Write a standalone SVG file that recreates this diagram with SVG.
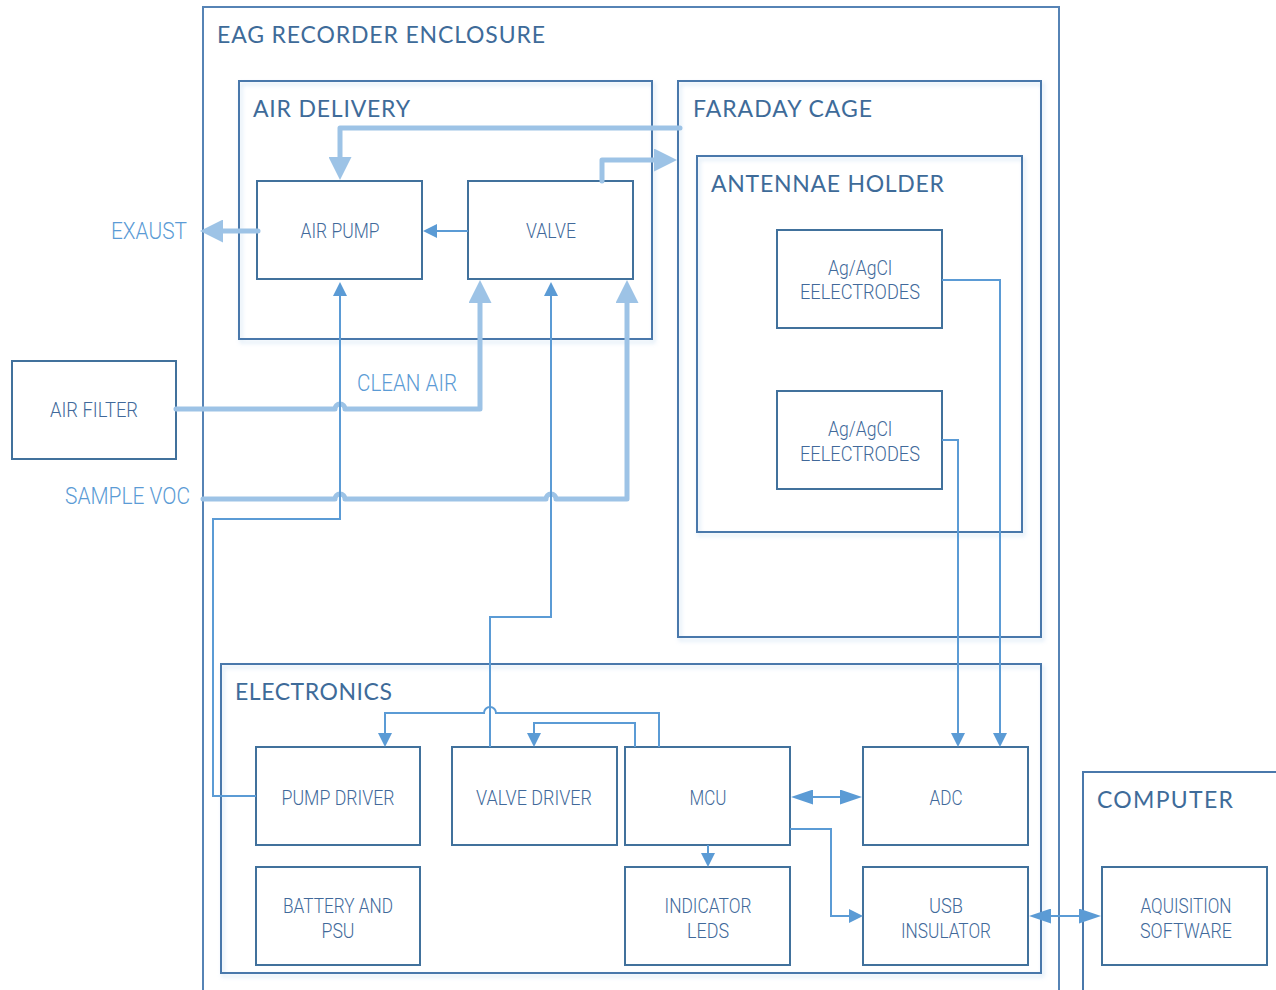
<svg xmlns="http://www.w3.org/2000/svg" width="1276" height="990" viewBox="0 0 1276 990">
<style>
.cont{fill:none;stroke:#4a78ab;stroke-width:2}
.encl{fill:none;stroke:#5683b5;stroke-width:2}
.box{fill:#fff;stroke:#41719c;stroke-width:2}
.title{font-family:Lato,"Open Sans","Liberation Sans",sans-serif;font-size:23px;fill:#3e6b99}
.lbl{font-family:Roboto,"Liberation Sans",sans-serif;font-size:21px;font-weight:300;fill:#41699a;text-anchor:middle}
.free{font-family:Roboto,"Liberation Sans",sans-serif;font-size:24px;font-weight:300;fill:#5b9bd5}
.thin{fill:none;stroke:#5b9bd5;stroke-width:2}
.thick{fill:none;stroke:#9dc3e6;stroke-width:5;stroke-linecap:round;stroke-linejoin:round}
</style>
<defs>
<filter id="sh" x="-5%" y="-5%" width="110%" height="110%">
<feDropShadow dx="2" dy="3" stdDeviation="2" flood-color="#9dc3e6" flood-opacity="0.45"/>
</filter>
<marker id="at" markerUnits="userSpaceOnUse" viewBox="0 0 14 14" refX="0" refY="7" markerWidth="14" markerHeight="14" orient="auto-start-reverse">
<path d="M0,0 L14,7 L0,14 z" fill="#5b9bd5"/>
</marker>
<marker id="ad" markerUnits="userSpaceOnUse" viewBox="0 0 22 15" refX="0" refY="7.5" markerWidth="22" markerHeight="15" orient="auto-start-reverse">
<path d="M0,0 L22,7.5 L0,15 z" fill="#5b9bd5"/>
</marker>
<marker id="ak" markerUnits="userSpaceOnUse" viewBox="0 0 23 23" refX="0" refY="11.5" markerWidth="23" markerHeight="23" orient="auto">
<path d="M0,0 L23,11.5 L0,23 z" fill="#9dc3e6"/>
</marker>
</defs>
<rect width="1276" height="990" fill="#fff"/>

<g id="enclosure">
<rect class="encl" x="203" y="7" width="856" height="1000"/>
<text class="title" x="217" y="43" textLength="328" lengthAdjust="spacing">EAG RECORDER ENCLOSURE</text>
</g>
<g id="air-delivery">
<rect class="cont" x="239" y="81" width="413" height="258" filter="url(#sh)" fill="#fff"/>
<text class="title" x="253" y="117" textLength="157" lengthAdjust="spacing">AIR DELIVERY</text>
</g>
<g id="faraday-cage">
<rect class="cont" x="678" y="81" width="363" height="556" filter="url(#sh)" fill="#fff"/>
<text class="title" x="693" y="117" textLength="179" lengthAdjust="spacing">FARADAY CAGE</text>
</g>
<g id="antennae-holder">
<rect class="cont" x="697" y="156" width="325" height="376" filter="url(#sh)" fill="#fff"/>
<text class="title" x="711" y="192" textLength="233" lengthAdjust="spacing">ANTENNAE HOLDER</text>
</g>
<g id="electronics">
<rect class="cont" x="221" y="664" width="820" height="309" filter="url(#sh)" fill="#fff"/>
<text class="title" x="235" y="700" textLength="157" lengthAdjust="spacing">ELECTRONICS</text>
</g>
<g id="computer">
<rect class="cont" x="1083" y="772" width="300" height="300"/>
<text class="title" x="1097" y="808" textLength="136" lengthAdjust="spacing">COMPUTER</text>
</g>

<g id="air-pump"><rect class="box" x="257" y="181" width="165" height="98"/><text class="lbl" x="340" y="238" textLength="79" lengthAdjust="spacingAndGlyphs">AIR PUMP</text></g>
<g id="valve"><rect class="box" x="468" y="181" width="165" height="98"/><text class="lbl" x="551" y="238" textLength="50" lengthAdjust="spacingAndGlyphs">VALVE</text></g>
<g id="air-filter"><rect class="box" x="12" y="361" width="164" height="98"/><text class="lbl" x="94" y="417" textLength="88" lengthAdjust="spacingAndGlyphs" style="font-size:20px">AIR FILTER</text></g>
<g id="electrodes-1"><rect class="box" x="777" y="230" width="165" height="98"/><text class="lbl" x="860" y="275" textLength="64" lengthAdjust="spacingAndGlyphs">Ag/AgCl</text><text class="lbl" x="860" y="299" textLength="120" lengthAdjust="spacingAndGlyphs">EELECTRODES</text></g>
<g id="electrodes-2"><rect class="box" x="777" y="391" width="165" height="98"/><text class="lbl" x="860" y="436" textLength="64" lengthAdjust="spacingAndGlyphs">Ag/AgCl</text><text class="lbl" x="860" y="461" textLength="120" lengthAdjust="spacingAndGlyphs">EELECTRODES</text></g>
<g id="pump-driver"><rect class="box" x="256" y="747" width="164" height="98"/><text class="lbl" x="338" y="805" textLength="113" lengthAdjust="spacingAndGlyphs">PUMP DRIVER</text></g>
<g id="valve-driver"><rect class="box" x="452" y="747" width="165" height="98"/><text class="lbl" x="534" y="805" textLength="116" lengthAdjust="spacingAndGlyphs">VALVE DRIVER</text></g>
<g id="mcu"><rect class="box" x="625" y="747" width="165" height="98"/><text class="lbl" x="708" y="805" textLength="37" lengthAdjust="spacingAndGlyphs">MCU</text></g>
<g id="adc"><rect class="box" x="863" y="747" width="165" height="98"/><text class="lbl" x="946" y="805" textLength="33" lengthAdjust="spacingAndGlyphs">ADC</text></g>
<g id="battery"><rect class="box" x="256" y="867" width="164" height="98"/><text class="lbl" x="338" y="913" textLength="110" lengthAdjust="spacingAndGlyphs">BATTERY AND</text><text class="lbl" x="338" y="938" textLength="33" lengthAdjust="spacingAndGlyphs">PSU</text></g>
<g id="indicator-leds"><rect class="box" x="625" y="867" width="165" height="98"/><text class="lbl" x="708" y="913" textLength="87" lengthAdjust="spacingAndGlyphs">INDICATOR</text><text class="lbl" x="708" y="938" textLength="42" lengthAdjust="spacingAndGlyphs">LEDS</text></g>
<g id="usb-insulator"><rect class="box" x="863" y="867" width="165" height="98"/><text class="lbl" x="946" y="913" textLength="34" lengthAdjust="spacingAndGlyphs">USB</text><text class="lbl" x="946" y="938" textLength="90" lengthAdjust="spacingAndGlyphs">INSULATOR</text></g>
<g id="aquisition-software"><rect class="box" x="1102" y="867" width="165" height="98"/><text class="lbl" x="1186" y="913" textLength="91" lengthAdjust="spacingAndGlyphs">AQUISITION</text><text class="lbl" x="1186" y="938" textLength="92" lengthAdjust="spacingAndGlyphs">SOFTWARE</text></g>

<g id="labels">
<text class="free" x="111" y="239" textLength="76" lengthAdjust="spacingAndGlyphs">EXAUST</text>
<text class="free" x="357" y="391" textLength="100" lengthAdjust="spacingAndGlyphs">CLEAN AIR</text>
<text class="free" x="65" y="504" textLength="125" lengthAdjust="spacingAndGlyphs">SAMPLE VOC</text>
</g>

<g id="connectors">
<path class="thick" d="M680,128 H340 V157" marker-end="url(#ak)"/>
<path class="thick" d="M602,181 V160 H654" marker-end="url(#ak)"/>
<path class="thick" d="M258,231 H223" marker-end="url(#ak)"/>
<path class="thick" d="M176,409 H335 A5,5 0 0 1 345,409 H480 V303" marker-end="url(#ak)"/>
<path class="thick" d="M203,499 H335 A5,5 0 0 1 345,499 H546 A5,5 0 0 1 556,499 H627 V303" marker-end="url(#ak)"/>

<path class="thin" d="M468,231 H437" marker-end="url(#at)"/>
<path class="thin" d="M256,796 H213 V519 H340 V296" marker-end="url(#at)"/>
<path class="thin" d="M490,747 V617 H551 V296" marker-end="url(#at)"/>
<path class="thin" d="M659,747 V713 H496 A6,6 0 0 0 484,713 H385 V733" marker-end="url(#at)"/>
<path class="thin" d="M635,747 V723 H534 V733" marker-end="url(#at)"/>
<path class="thin" d="M813,797 H840" marker-start="url(#ad)" marker-end="url(#ad)"/>
<path class="thin" d="M790,829 H831 V916 H849" marker-end="url(#at)"/>
<path class="thin" d="M708,845 V853" marker-end="url(#at)"/>
<path class="thin" d="M1051,916 H1079" marker-start="url(#ad)" marker-end="url(#ad)"/>
<path class="thin" d="M942,280 H1000 V733" marker-end="url(#at)"/>
<path class="thin" d="M942,440 H958 V733" marker-end="url(#at)"/>
</g>
</svg>
